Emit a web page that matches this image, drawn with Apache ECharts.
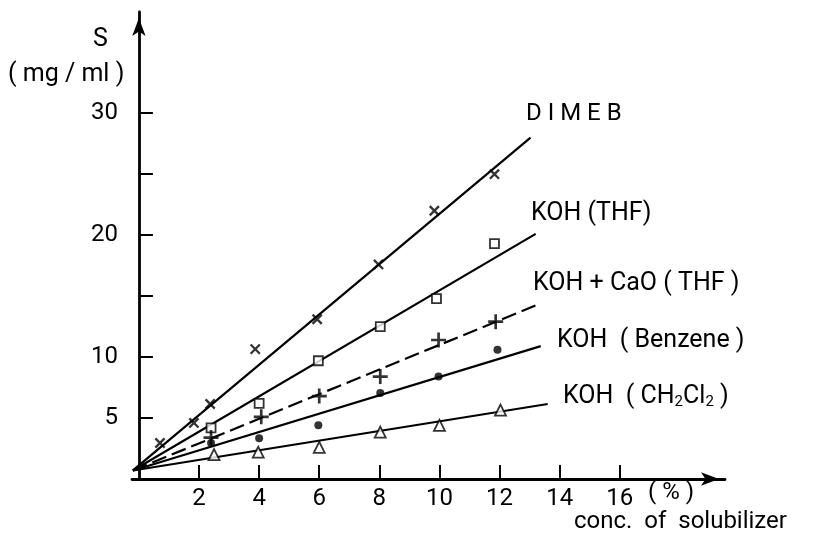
<!DOCTYPE html>
<html>
<head>
<meta charset="utf-8">
<script src="https://cdn.jsdelivr.net/npm/echarts@6/dist/echarts.min.js"></script>
<style>html,body{margin:0;padding:0;background:#fff}#c{width:819px;height:539px}</style>
</head>
<body>
<div id="c"></div>
<script>
// ---- data ----
const xTicks = [2, 4, 6, 8, 10, 12, 14, 16];
const yTicks = [5, 10, 15, 20, 25, 30];
const yLabels = [5, 10, 20, 30];

const seriesNames = ['DIMEB', 'KOH (THF)', 'KOH + CaO (THF)', 'KOH (Benzene)', 'KOH (CH2Cl2)'];

const dimebPts   = [[0.7, 2.95], [1.83, 4.6], [2.37, 6.15], [3.87, 10.65], [5.93, 13.1], [7.97, 17.6], [9.83, 22.0], [11.83, 25.0]];
const thfPts     = [[2.4, 4.2], [4.0, 6.2], [5.97, 9.7], [8.03, 12.5], [9.9, 14.8], [11.83, 19.3]];
const caoPts     = [[2.4, 3.4], [4.07, 5.1], [6.0, 6.8], [8.03, 8.4], [9.97, 11.4], [11.87, 12.9]];
const benzenePts = [[2.4, 2.95], [4.0, 3.35], [5.97, 4.4], [8.03, 7.05], [9.97, 8.4], [11.93, 10.6]];
const ch2cl2Pts  = [[2.5, 2.0], [3.97, 2.2], [6.0, 2.6], [8.03, 3.85], [10.0, 4.4], [12.03, 5.65]];

const dimebFit   = [[-0.2, 0.7], [13.03, 28.0]];
const thfFit     = [[-0.2, 0.7], [13.2, 20.1]];
const caoFit     = [[-0.2, 0.7], [13.37, 14.4]];
const benzeneFit = [[-0.2, 0.7], [13.37, 10.9]];
const ch2cl2Fit  = [[-0.2, 0.7], [13.6, 6.15]];

// ---- chart ----
const FONT = 'Roboto';
const plusPath = 'path://M4.1,0H5.9V10H4.1Z M0,4.1H10V5.9H0Z';
const chart = echarts.init(document.getElementById('c'), null, {renderer: 'canvas'});

function fitSeries(data, dashed) {
  return {
    type: 'line', data: data, symbol: 'none', silent: true, z: 2,
    lineStyle: {color: '#000', width: 2.2, type: dashed ? [15, 6] : 'solid'}
  };
}
function ptSeries(data, symbol, size, opts) {
  return Object.assign({
    type: 'scatter', data: data, symbol: symbol, symbolSize: size, z: 3,
    itemStyle: {color: '#000'}
  }, opts || {});
}

chart.setOption({
  animation: false,
  backgroundColor: '#fff',
  grid: {left: 132, right: 94, top: 12, bottom: 60, containLabel: false},
  xAxis: {
    type: 'value', min: -0.23, max: 19.5,
    axisLine: {show: true, symbol: ['none', 'arrow'], symbolSize: [10, 18], symbolOffset: [0, -6],
      lineStyle: {color: '#000', width: 2.8}},
    axisTick: {show: true, inside: true, length: 14, customValues: xTicks, lineStyle: {color: '#000', width: 2}},
    axisLabel: {show: true, customValues: xTicks, margin: 8, color: '#000', fontFamily: FONT, fontSize: 24},
    splitLine: {show: false}
  },
  yAxis: {
    type: 'value', min: 0, max: 38.3,
    axisLine: {show: true, symbol: ['none', 'arrow'], symbolSize: [10, 18], symbolOffset: [0, -6],
      lineStyle: {color: '#000', width: 2.8}},
    axisTick: {show: true, inside: true, length: 14, customValues: yTicks, lineStyle: {color: '#000', width: 2}},
    axisLabel: {show: true, customValues: yLabels, margin: 14, color: '#000', fontFamily: FONT, fontSize: 24},
    splitLine: {show: false}
  },
  series: [
    fitSeries(dimebFit, false),
    fitSeries(thfFit, false),
    fitSeries(caoFit, true),
    fitSeries(benzeneFit, false),
    fitSeries(ch2cl2Fit, false),
    ptSeries(dimebPts, plusPath, 13, {symbolRotate: 45, name: seriesNames[0]}),
    ptSeries(thfPts, 'rect', 9, {name: seriesNames[1], itemStyle: {color: '#fff', borderColor: '#000', borderWidth: 1.8}}),
    ptSeries(caoPts, plusPath, 15, {name: seriesNames[2]}),
    ptSeries(benzenePts, 'circle', 8, {name: seriesNames[3]}),
    ptSeries(ch2cl2Pts, 'triangle', 11, {name: seriesNames[4], itemStyle: {color: '#fff', borderColor: '#000', borderWidth: 1.8}})
  ],
  graphic: [
    {type: 'text', left: 93, top: 27, style: {text: 'S', font: '25px ' + FONT, fill: '#000'}},
    {type: 'text', left: 8, top: 62, style: {text: '( mg / ml )', font: '25px ' + FONT, fill: '#000'}},
    {type: 'text', left: 526, top: 102, style: {text: 'D I M E B', font: '24px ' + FONT, fill: '#000'}},
    {type: 'text', left: 531, top: 201, style: {text: 'KOH (THF)', font: '25px ' + FONT, fill: '#000'}},
    {type: 'text', left: 533, top: 271, style: {text: 'KOH + CaO ( THF )', font: '25px ' + FONT, fill: '#000'}},
    {type: 'text', left: 557, top: 328, style: {text: 'KOH  ( Benzene )', font: '25px ' + FONT, fill: '#000'}},
    {type: 'text', left: 563, top: 384, style: {
      rich: {a: {fontFamily: FONT, fontSize: 25, fill: '#000'}, s: {fontFamily: FONT, fontSize: 15, fill: '#000', verticalAlign: 'bottom', padding: [11, 0, 0, 0]}},
      text: '{a|KOH  ( CH}{s|2}{a|Cl}{s|2}{a| )}'
    }},
    {type: 'text', left: 648, top: 481, style: {text: '( % )', font: '24px ' + FONT, fill: '#000'}},
    {type: 'text', left: 574, top: 510, style: {text: 'conc.  of  solubilizer', font: '24px ' + FONT, fill: '#000'}}
  ]
});
</script>
</body>
</html>
